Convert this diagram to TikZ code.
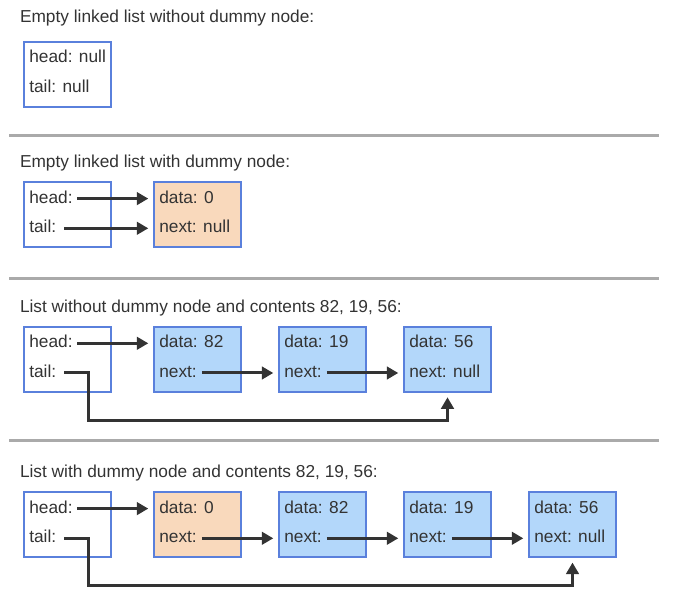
\documentclass[tikz,border=0pt]{standalone}
\usepackage{fontspec}
\setmainfont{Liberation Sans}
\usetikzlibrary{arrows.meta}
\definecolor{bblue}{HTML}{5A80DC}
\definecolor{lblue}{HTML}{B3D7FA}
\definecolor{lorange}{HTML}{F9D9BC}
\definecolor{tcol}{HTML}{333333}
\definecolor{acol}{HTML}{333333}
\definecolor{sepcol}{HTML}{AAAAAA}
\tikzset{
  box/.style={draw=bblue, line width=2pt, minimum width=87.6pt, minimum height=65.3pt, anchor=north west, inner sep=0pt, outer sep=0pt},
  hbox/.style={box, fill=white},
  dbox/.style={box, fill=lorange},
  nbox/.style={box, fill=lblue},
  txt/.style={anchor=base west, inner sep=0pt, outer sep=0pt, text=tcol, font=\fontsize{17.3}{20}\selectfont},
  arr/.style={draw=acol, line width=3pt, -{Triangle[length=11.5pt,width=12.5pt]}, shorten >=5.4pt},
  sepline/.style={draw=sepcol, line width=2.5pt}
}
\begin{document}
\begin{tikzpicture}[x=1pt,y=-1pt]
\useasboundingbox (0,0) rectangle (681,609);
% ---------- Section 1
\node[txt] (t1) at (20,22.7) {Empty linked list without dummy node:};
\node[hbox] (b1) at (23.7,41.7) {};
\node[txt] (h1) at (29.3,63.0) {head: null};
\node[txt] (k1) at (29.3,92.7) {tail: null};
\coordinate (l1a) at (9,135.7);
\coordinate (l1b) at (658.7,135.7);
\draw[sepline] (l1a) -- (l1b);
% ---------- Section 2
\node[txt] (t2) at (20,167.7) {Empty linked list with dummy node:};
\node[hbox] (b2) at (23.7,182) {};
\node[dbox] (d2) at (153.7,182) {};
\node[txt] (h2) at (29.3,203.3) {head:};
\node[txt] (k2) at (29.3,233) {tail:};
\node[txt] (d2a) at (159.3,203.3) {data: 0};
\node[txt] (d2b) at (159.3,233) {next: null};
\coordinate (s2h) at ([xshift=4.5pt,yshift=4.7pt]h2.base east);
\coordinate (s2t) at ([xshift=8pt,yshift=4.7pt]k2.base east);
\draw[arr] (s2h) -- (s2h -| d2.west);
\draw[arr] (s2t) -- (s2t -| d2.west);
\coordinate (l2a) at (9,278.3);
\coordinate (l2b) at (658.7,278.3);
\draw[sepline] (l2a) -- (l2b);
% ---------- Section 3
\node[txt] (t3) at (20,312.7) {List without dummy node and contents 82, 19, 56:};
\node[hbox] (b3) at (23.7,326.7) {};
\node[nbox] (p3) at (153.7,326.7) {};
\node[nbox] (q3) at (278.7,326.7) {};
\node[nbox] (r3) at (403.7,326.7) {};
\node[txt] (h3) at (29.3,348) {head:};
\node[txt] (k3) at (29.3,377.7) {tail:};
\node[txt] (p3a) at (159.3,348) {data: 82};
\node[txt] (p3b) at (159.3,377.7) {next:};
\node[txt] (q3a) at (284.3,348) {data: 19};
\node[txt] (q3b) at (284.3,377.7) {next:};
\node[txt] (r3a) at (409.3,348) {data: 56};
\node[txt] (r3b) at (409.3,377.7) {next: null};
\coordinate (s3h) at ([xshift=4.5pt,yshift=4.7pt]h3.base east);
\coordinate (s3t) at ([xshift=8pt,yshift=4.7pt]k3.base east);
\coordinate (s3p) at ([xshift=5pt,yshift=4.7pt]p3b.base east);
\coordinate (s3q) at ([xshift=5pt,yshift=4.7pt]q3b.base east);
\coordinate (c3) at (88,421);
\draw[arr] (s3h) -- (s3h -| p3.west);
\draw[arr] (s3p) -- (s3p -| q3.west);
\draw[arr] (s3q) -- (s3q -| r3.west);
\draw[arr, shorten >=5.3pt] (s3t) -| (c3) -| (r3.south);
\coordinate (l3a) at (9,440.7);
\coordinate (l3b) at (658.7,440.7);
\draw[sepline] (l3a) -- (l3b);
% ---------- Section 4
\node[txt] (t4) at (20,477.7) {List with dummy node and contents 82, 19, 56:};
\node[hbox] (b4) at (23.7,492) {};
\node[dbox] (d4) at (153.7,492) {};
\node[nbox] (p4) at (278.7,492) {};
\node[nbox] (q4) at (403.7,492) {};
\node[nbox] (r4) at (528.7,492) {};
\node[txt] (h4) at (29.3,513.3) {head:};
\node[txt] (k4) at (29.3,543) {tail:};
\node[txt] (d4a) at (159.3,513.3) {data: 0};
\node[txt] (d4b) at (159.3,543) {next:};
\node[txt] (p4a) at (284.3,513.3) {data: 82};
\node[txt] (p4b) at (284.3,543) {next:};
\node[txt] (q4a) at (409.3,513.3) {data: 19};
\node[txt] (q4b) at (409.3,543) {next:};
\node[txt] (r4a) at (534.3,513.3) {data: 56};
\node[txt] (r4b) at (534.3,543) {next: null};
\coordinate (s4h) at ([xshift=4.5pt,yshift=4.7pt]h4.base east);
\coordinate (s4t) at ([xshift=8pt,yshift=4.7pt]k4.base east);
\coordinate (s4d) at ([xshift=5pt,yshift=4.7pt]d4b.base east);
\coordinate (s4p) at ([xshift=5pt,yshift=4.7pt]p4b.base east);
\coordinate (s4q) at ([xshift=5pt,yshift=4.7pt]q4b.base east);
\coordinate (c4) at (88,586);
\draw[arr] (s4h) -- (s4h -| d4.west);
\draw[arr] (s4d) -- (s4d -| p4.west);
\draw[arr] (s4p) -- (s4p -| q4.west);
\draw[arr] (s4q) -- (s4q -| r4.west);
\draw[arr, shorten >=5.3pt] (s4t) -| (c4) -| (r4.south);
\end{tikzpicture}
\end{document}
